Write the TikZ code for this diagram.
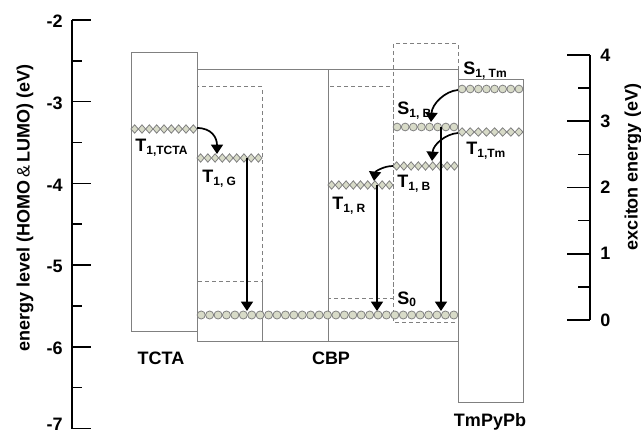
\documentclass[tikz,border=0pt]{standalone}
\usepackage{fontspec}
\setmainfont{Liberation Sans}
\usepackage{tikz}
\usetikzlibrary{arrows.meta, calc, positioning}
\usepackage{xcolor}

\definecolor{lvlfill}{RGB}{216,219,200}
\definecolor{boxgray}{RGB}{128,128,128}

\tikzset{
  axis/.style={line width=0.8pt},
  layer/.style={draw=boxgray, line width=0.5pt},
  dopant/.style={draw=boxgray, line width=0.5pt, dash pattern=on 2pt off 1.5pt},
  transfer/.style={line width=0.85pt, -{Triangle[width=6pt,length=4.7pt]}},
  num/.style={font=\fontsize{9}{10}\selectfont\bfseries, inner sep=0pt},
  lbl/.style={num, anchor=base west},
}

% 三重态能级 (菱形): 起点 x, 终点 x, y, 个数
\newcommand{\tlevel}[4]{%
  \pgfmathsetmacro{\lvlstep}{(#2-#1)/#4}
  \foreach \i in {1,...,#4} {
    \pgfmathsetmacro{\lvlx}{#1+(\i-0.5)*\lvlstep}
    \filldraw[fill=lvlfill, draw=boxgray, line width=0.4pt]
      (\lvlx-\lvlstep/2,#3) -- (\lvlx,#3-4.2) -- (\lvlx+\lvlstep/2,#3) -- (\lvlx,#3+4.2) -- cycle;
  }}
% 单重态能级 (圆)
\newcommand{\slevel}[4]{%
  \pgfmathsetmacro{\lvlstep}{(#2-#1)/#4}
  \foreach \i in {1,...,#4} {
    \pgfmathsetmacro{\lvlx}{#1+(\i-0.5)*\lvlstep}
    \filldraw[fill=lvlfill, draw=boxgray, line width=0.4pt]
      (\lvlx,#3) circle (0.48*\lvlstep);
  }}

\begin{document}
\begin{tikzpicture}[x=0.5pt, y=-0.5pt]
    \useasboundingbox (0,0) rectangle (641,432);

    % 左侧坐标轴
    \draw[axis] (72,20) -- (72,428.5);
    \foreach \v [count=\i from 0] in {-2,-3,-4,-5,-6} {
        \draw[axis] (72,20+\i*81.7) -- (91,20+\i*81.7);
        \node[num, anchor=east] (lt\i) at (63,21.5+\i*81.7) {\v};
    }
    \draw[axis] (72,428.5) -- (91,428.5);
    \node[num, anchor=east] (lt5) at (63,424.5) {-7};
    \foreach \i in {0,...,4}
        \draw[axis] (72,60.85+\i*81.7) -- (82,60.85+\i*81.7);
    \node[num, rotate=90] (ylab) at (25,208) {energy level (HOMO{\mdseries\,\&\,}LUMO) (eV)};

    % 右侧坐标轴
    \draw[axis] (590,55) -- (590,320);
    \foreach \v [count=\i from 0] in {4,3,2,1,0} {
        \draw[axis] (567,55+\i*66.25) -- (590,55+\i*66.25);
        \node[num, anchor=west] (rt\i) at (600,55+\i*66.25) {\v};
    }
    \foreach \i in {0,...,3}
        \draw[axis] (578,88.125+\i*66.25) -- (590,88.125+\i*66.25);
    \node[num, rotate=90] (elab) at (633,167) {exciton energy (eV)};

    % 各层能级框
    \draw[layer] (131,53) rectangle (197,331);
    \draw[layer] (197,70) rectangle (458,341);
    \draw[layer] (328,70) -- (328,341);
    \draw[layer] (262,282) -- (262,341);
    \draw[layer] (458,80) rectangle (523,402);

    % 掺杂剂能级 (虚线)
    \draw[dopant] (197,87) rectangle (262,282);
    \draw[dopant] (328,87) rectangle (393,298);
    \draw[dopant] (393,44) rectangle (458,322);

    % 激子能级
    \tlevel{131}{197}{129}{9}
    \tlevel{197}{262}{158}{9}
    \tlevel{328}{393}{185}{9}
    \tlevel{393}{458}{166}{9}
    \slevel{393}{458}{127}{8}
    \tlevel{458}{523}{132}{8}
    \slevel{458}{523}{89}{8}
    \slevel{197}{458}{315}{31}

    % 箭头端点
    \coordinate (tcta) at (197,128);
    \coordinate (tg) at (217,154);
    \coordinate (tg0) at (247,158);
    \coordinate (stm) at (458,90);
    \coordinate (sb) at (431,122);
    \coordinate (sb0) at (441,127);
    \coordinate (ttm) at (458,133);
    \coordinate (tb) at (432,161);
    \coordinate (tbl) at (393,166);
    \coordinate (tr) at (374,181);
    \coordinate (tr0) at (377,185);
    \coordinate (g0) at (247,311);
    \coordinate (r0) at (377,311);
    \coordinate (b0) at (441,311);

    % 能量转移
    \draw[transfer] (tcta) .. controls (212,128) and (217,138) .. (tg);
    \draw[transfer] (stm) .. controls (445,91) and (432,104) .. (sb);
    \draw[transfer] (ttm) .. controls (445,134) and (433,145) .. (tb);
    \draw[transfer] (tbl) .. controls (383,166) and (375,172) .. (tr);

    % 发光跃迁
    \draw[transfer] (tg0) -- (g0);
    \draw[transfer] (tr0) -- (r0);
    \draw[transfer] (sb0) -- (b0);

    % 能级标注
    \node[lbl] (ltcta) at (135,152) {T\textsubscript{1,TCTA}};
    \node[lbl] (lg) at (202,183) {T\textsubscript{1, G}};
    \node[lbl] (lr) at (332,210) {T\textsubscript{1, R}};
    \node[lbl] (lb) at (397,188) {T\textsubscript{1, B}};
    \node[lbl] (lsb) at (397,115) {S\textsubscript{1, B}};
    \node[lbl] (lstm) at (463,75) {S\textsubscript{1, Tm}};
    \node[lbl] (lttm) at (466,155) {T\textsubscript{1,Tm}};
    \node[lbl] (ls0) at (397,304) {S\textsubscript{0}};

    % 材料名称
    \node[num, anchor=base] (ntcta) at (161,364) {TCTA};
    \node[num, anchor=base] (ncbp) at (331,364) {CBP};
    \node[num, anchor=base] (ntm) at (490,426) {TmPyPb};
\end{tikzpicture}
\end{document}
